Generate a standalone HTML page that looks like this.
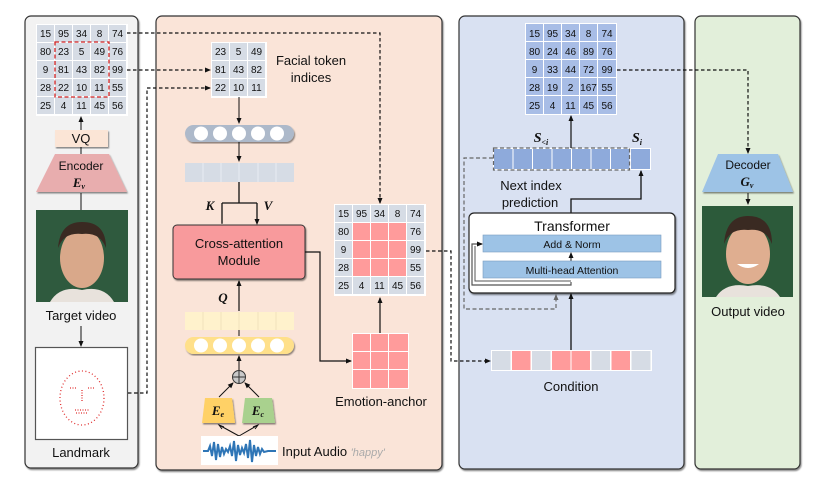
<!DOCTYPE html>
<html><head><meta charset="utf-8"><style>
html,body{margin:0;padding:0;background:#fff;}
svg{display:block;font-family:"Liberation Sans",sans-serif;}
.g{fill:#d6dce5}
.b{fill:#a8bde6}
.p{fill:#ff9b9b}
.t{font-size:10px;fill:#111;text-anchor:middle}
.L{font-size:13px;fill:#111;text-anchor:middle}
.it{font-family:"Liberation Serif",serif;font-style:italic;font-weight:bold;font-size:13px;fill:#111;text-anchor:middle}
</style></head><body>
<svg width="817" height="491" viewBox="0 0 817 491" xmlns="http://www.w3.org/2000/svg">
<defs>
<marker id="a" markerWidth="6" markerHeight="6" refX="5" refY="3" orient="auto" markerUnits="userSpaceOnUse"><path d="M0,0.5 L6,3 L0,5.5z" fill="#111"/></marker>
<marker id="ag" markerWidth="6" markerHeight="6" refX="5" refY="3" orient="auto" markerUnits="userSpaceOnUse"><path d="M0,0.5 L6,3 L0,5.5z" fill="#666"/></marker>
<filter id="sh"><feDropShadow dx="1" dy="1.5" stdDeviation="0.8" flood-opacity="0.45"/></filter>
</defs>
<!-- panels -->
<rect x="25" y="16" width="113" height="452" rx="6" fill="#f2f2f2" stroke="#333" stroke-width="1.2" filter="url(#sh)"/>
<rect x="156" y="16" width="286" height="454" rx="6" fill="#fae4d8" stroke="#333" stroke-width="1.2" filter="url(#sh)"/>
<rect x="459" y="16" width="225" height="453" rx="6" fill="#d9e1f2" stroke="#333" stroke-width="1.2" filter="url(#sh)"/>
<rect x="695" y="16" width="105" height="453" rx="6" fill="#e2efda" stroke="#333" stroke-width="1.2" filter="url(#sh)"/>

<!-- left grid -->
<g>
<rect x="36" y="24" width="92" height="92" fill="#fff"/>
<g class="g">
<rect x="37" y="25" width="17" height="17"/><rect x="55" y="25" width="17" height="17"/><rect x="73" y="25" width="17" height="17"/><rect x="91" y="25" width="17" height="17"/><rect x="109" y="25" width="17" height="17"/>
<rect x="37" y="43" width="17" height="17"/><rect x="55" y="43" width="17" height="17"/><rect x="73" y="43" width="17" height="17"/><rect x="91" y="43" width="17" height="17"/><rect x="109" y="43" width="17" height="17"/>
<rect x="37" y="61" width="17" height="17"/><rect x="55" y="61" width="17" height="17"/><rect x="73" y="61" width="17" height="17"/><rect x="91" y="61" width="17" height="17"/><rect x="109" y="61" width="17" height="17"/>
<rect x="37" y="79" width="17" height="17"/><rect x="55" y="79" width="17" height="17"/><rect x="73" y="79" width="17" height="17"/><rect x="91" y="79" width="17" height="17"/><rect x="109" y="79" width="17" height="17"/>
<rect x="37" y="97" width="17" height="17"/><rect x="55" y="97" width="17" height="17"/><rect x="73" y="97" width="17" height="17"/><rect x="91" y="97" width="17" height="17"/><rect x="109" y="97" width="17" height="17"/>
</g>
<g class="t">
<text x="45.5" y="37">15</text><text x="63.5" y="37">95</text><text x="81.5" y="37">34</text><text x="99.5" y="37">8</text><text x="117.5" y="37">74</text>
<text x="45.5" y="55">80</text><text x="63.5" y="55">23</text><text x="81.5" y="55">5</text><text x="99.5" y="55">49</text><text x="117.5" y="55">76</text>
<text x="45.5" y="73">9</text><text x="63.5" y="73">81</text><text x="81.5" y="73">43</text><text x="99.5" y="73">82</text><text x="117.5" y="73">99</text>
<text x="45.5" y="91">28</text><text x="63.5" y="91">22</text><text x="81.5" y="91">10</text><text x="99.5" y="91">11</text><text x="117.5" y="91">55</text>
<text x="45.5" y="109">25</text><text x="63.5" y="109">4</text><text x="81.5" y="109">11</text><text x="99.5" y="109">45</text><text x="117.5" y="109">56</text>
</g>
<rect x="55" y="42" width="54" height="55" fill="none" stroke="#d02020" stroke-width="1.3" stroke-dasharray="4,2.5"/>
</g>
<line x1="81" y1="130" x2="81" y2="117" stroke="#111" marker-end="url(#a)"/>
<rect x="55" y="130" width="53" height="17" fill="#fbe5d6" filter="url(#sh)"/>
<text x="81" y="143" class="L">VQ</text>
<line x1="81" y1="147" x2="81" y2="154" stroke="#111"/>
<path d="M55,154 L109,154 L127,192 L36,192z" fill="#e8adae" filter="url(#sh)"/>
<text x="81" y="170" class="L" style="font-size:12px">Encoder</text>
<text x="79" y="187" class="it">E<tspan font-size="8" dy="2">v</tspan></text>
<line x1="81" y1="193" x2="81" y2="210" stroke="#111"/>
<!-- target face -->
<rect x="36" y="210" width="92" height="92" fill="#2f5a3e"/>
<ellipse cx="82" cy="258" rx="22" ry="30" fill="#d9a88a"/>
<path d="M58,248 Q60,222 82,222 Q106,222 106,248 Q100,232 82,234 Q64,232 58,248z" fill="#3a2a22"/>
<path d="M50,302 Q60,285 82,290 Q104,285 114,302z" fill="#e8e2dc"/>
<text x="81" y="320" class="L">Target video</text>
<line x1="81" y1="326" x2="81" y2="346" stroke="#111" marker-end="url(#a)"/>
<rect x="35.5" y="347.5" width="92" height="92" fill="#fff" stroke="#555" stroke-width="1.2"/>
<ellipse cx="82" cy="398" rx="22" ry="27" fill="none" stroke="#e03030" stroke-width="1.3" stroke-dasharray="1,2.5"/>
<path d="M70,388h6M88,388h6M82,390v12M75,410h14M76,413h12" stroke="#e03030" stroke-width="1.3" stroke-dasharray="1,1.5"/>
<text x="81" y="457" class="L">Landmark</text>

<!-- dashed connectors from left -->
<path d="M127,33 H380 V203" fill="none" stroke="#111" stroke-width="1.2" stroke-dasharray="3.5,2.5" marker-end="url(#a)"/>
<path d="M127,70 H210" fill="none" stroke="#111" stroke-width="1.2" stroke-dasharray="3.5,2.5" marker-end="url(#a)"/>
<path d="M128,393 H147 V88 H210" fill="none" stroke="#111" stroke-width="1.2" stroke-dasharray="3.5,2.5" marker-end="url(#a)"/>

<!-- token grid -->
<rect x="211" y="42" width="56" height="56" fill="#fff"/>
<g class="g">
<rect x="212" y="43" width="17" height="17"/><rect x="230" y="43" width="17" height="17"/><rect x="248" y="43" width="17" height="17"/>
<rect x="212" y="61" width="17" height="17"/><rect x="230" y="61" width="17" height="17"/><rect x="248" y="61" width="17" height="17"/>
<rect x="212" y="79" width="17" height="17"/><rect x="230" y="79" width="17" height="17"/><rect x="248" y="79" width="17" height="17"/>
</g>
<g class="t">
<text x="220.5" y="55">23</text><text x="238.5" y="55">5</text><text x="256.5" y="55">49</text>
<text x="220.5" y="73">81</text><text x="238.5" y="73">43</text><text x="256.5" y="73">82</text>
<text x="220.5" y="91">22</text><text x="238.5" y="91">10</text><text x="256.5" y="91">11</text>
</g>
<text x="311" y="65" class="L">Facial token</text>
<text x="311" y="82" class="L">indices</text>
<line x1="239" y1="97" x2="239" y2="123" stroke="#111" marker-end="url(#a)"/>
<rect x="185" y="125" width="109" height="17" rx="8.5" fill="#adb9ca" filter="url(#sh)"/>
<g fill="#fff"><circle cx="201" cy="133.5" r="7"/><circle cx="220" cy="133.5" r="7"/><circle cx="239" cy="133.5" r="7"/><circle cx="258" cy="133.5" r="7"/><circle cx="277" cy="133.5" r="7"/></g>
<line x1="239" y1="142" x2="239" y2="161" stroke="#111" marker-end="url(#a)"/>
<rect x="185" y="163" width="109" height="19" fill="#d6dce5"/>
<path d="M203,163v19M221,163v19M239,163v19M258,163v19M276,163v19" stroke="#e8ecf2"/>
<path d="M239,182 V203 M222,203 H257 M222,203 V223 M257,203 V223" fill="none" stroke="#111" stroke-width="1.3"/>
<path d="M222,215 V224 M257,215 V224" stroke="#111" marker-end="url(#a)"/>
<text x="210" y="210" class="it">K</text>
<text x="268" y="210" class="it">V</text>
<rect x="173" y="225" width="132" height="54" rx="4" fill="#f89a9c" stroke="#333" stroke-width="1" filter="url(#sh)"/>
<text x="239" y="248" class="L">Cross-attention</text>
<text x="239" y="265" class="L">Module</text>
<line x1="239" y1="311" x2="239" y2="281" stroke="#111" stroke-width="1.2" marker-end="url(#a)"/>
<text x="223" y="302" class="it">Q</text>
<rect x="185" y="312" width="109" height="18" fill="#fff2cc"/>
<path d="M203,312v18M221,312v18M239,312v18M258,312v18M276,312v18" stroke="#f0e2bc"/>
<line x1="239" y1="336" x2="239" y2="330" stroke="#111"/>
<rect x="185" y="337" width="109" height="17" rx="8.5" fill="#ffe08a" filter="url(#sh)"/>
<g fill="#fff"><circle cx="201" cy="345.5" r="7"/><circle cx="220" cy="345.5" r="7"/><circle cx="239" cy="345.5" r="7"/><circle cx="258" cy="345.5" r="7"/><circle cx="277" cy="345.5" r="7"/></g>
<line x1="239" y1="370" x2="239" y2="356" stroke="#111" marker-end="url(#a)"/>
<circle cx="239" cy="377" r="6.5" fill="#c9c9c9" stroke="#333"/>
<path d="M232.5,377h13M239,370.5v13" stroke="#333"/>
<line x1="219" y1="397" x2="233" y2="383" stroke="#111" marker-end="url(#a)"/>
<line x1="259" y1="397" x2="245" y2="383" stroke="#111" marker-end="url(#a)"/>
<path d="M205,398 L232,398 L235,423 L202,423z" fill="#ffd166" filter="url(#sh)"/>
<path d="M245,398 L272,398 L275,423 L242,423z" fill="#a9d18e" filter="url(#sh)"/>
<text x="218" y="415" class="it">E<tspan font-size="8" dy="2">e</tspan></text>
<text x="258" y="415" class="it">E<tspan font-size="8" dy="2">c</tspan></text>
<path d="M239,436 L219,425 M239,436 L258,425" stroke="#111"/>
<path d="M224,427 L219,425 L222,429" fill="none" stroke="#111"/>
<path d="M253,427 L258,425 L255,429" fill="none" stroke="#111"/>
<rect x="201" y="436" width="77" height="29" fill="#fff"/>
<path d="M203,451 L208,451 L210,446 L212,456 L214,442 L216,460 L218,444 L220,457 L222,447 L224,454 L226,449 L228,452 L230,446 L232,456 L234,441 L236,461 L238,445 L240,455 L242,448 L244,453 L246,444 L248,458 L250,440 L252,462 L254,445 L256,456 L258,447 L260,454 L262,449 L264,452 L268,451 L276,451" fill="none" stroke="#2e75b6" stroke-width="2"/>
<text x="282" y="456" style="font-size:13px;fill:#111">Input Audio <tspan style="font-style:italic;fill:#aaa;font-size:11px">'happy'</tspan></text>

<!-- emotion grid -->
<rect x="334" y="204" width="92" height="92" fill="#fff"/>
<g class="g">
<rect x="335" y="205" width="17" height="17"/><rect x="353" y="205" width="17" height="17"/><rect x="371" y="205" width="17" height="17"/><rect x="389" y="205" width="17" height="17"/><rect x="407" y="205" width="17" height="17"/>
<rect x="335" y="223" width="17" height="17"/><rect x="407" y="223" width="17" height="17"/>
<rect x="335" y="241" width="17" height="17"/><rect x="407" y="241" width="17" height="17"/>
<rect x="335" y="259" width="17" height="17"/><rect x="407" y="259" width="17" height="17"/>
<rect x="335" y="277" width="17" height="17"/><rect x="353" y="277" width="17" height="17"/><rect x="371" y="277" width="17" height="17"/><rect x="389" y="277" width="17" height="17"/><rect x="407" y="277" width="17" height="17"/>
</g>
<g class="p">
<rect x="353" y="223" width="17" height="17"/><rect x="371" y="223" width="17" height="17"/><rect x="389" y="223" width="17" height="17"/>
<rect x="353" y="241" width="17" height="17"/><rect x="371" y="241" width="17" height="17"/><rect x="389" y="241" width="17" height="17"/>
<rect x="353" y="259" width="17" height="17"/><rect x="371" y="259" width="17" height="17"/><rect x="389" y="259" width="17" height="17"/>
</g>
<g class="t">
<text x="343.5" y="217">15</text><text x="361.5" y="217">95</text><text x="379.5" y="217">34</text><text x="397.5" y="217">8</text><text x="415.5" y="217">74</text>
<text x="343.5" y="235">80</text><text x="415.5" y="235">76</text>
<text x="343.5" y="253">9</text><text x="415.5" y="253">99</text>
<text x="343.5" y="271">28</text><text x="415.5" y="271">55</text>
<text x="343.5" y="289">25</text><text x="361.5" y="289">4</text><text x="379.5" y="289">11</text><text x="397.5" y="289">45</text><text x="415.5" y="289">56</text>
</g>
<path d="M305,252 H320 V361 H351" fill="none" stroke="#111" stroke-width="1.2" marker-end="url(#a)"/>
<line x1="380" y1="334" x2="380" y2="298" stroke="#111" stroke-width="1.2" marker-end="url(#a)"/>
<rect x="352" y="333" width="57" height="56" fill="#fff"/>
<g class="p">
<rect x="353" y="334" width="17" height="17"/><rect x="371" y="334" width="17" height="17"/><rect x="389" y="334" width="19" height="17"/>
<rect x="353" y="352" width="17" height="17"/><rect x="371" y="352" width="17" height="17"/><rect x="389" y="352" width="19" height="17"/>
<rect x="353" y="370" width="17" height="18"/><rect x="371" y="370" width="17" height="18"/><rect x="389" y="370" width="19" height="18"/>
</g>
<text x="381" y="406" class="L">Emotion-anchor</text>
<path d="M426,251 H451 V361 H490" fill="none" stroke="#111" stroke-width="1.2" stroke-dasharray="3.5,2.5" marker-end="url(#a)"/>

<!-- blue panel -->
<rect x="525" y="23" width="92" height="92" fill="#fff"/>
<g class="b">
<rect x="526" y="24" width="17" height="17"/><rect x="544" y="24" width="17" height="17"/><rect x="562" y="24" width="17" height="17"/><rect x="580" y="24" width="17" height="17"/><rect x="598" y="24" width="18" height="17"/>
<rect x="526" y="42" width="17" height="17"/><rect x="544" y="42" width="17" height="17"/><rect x="562" y="42" width="17" height="17"/><rect x="580" y="42" width="17" height="17"/><rect x="598" y="42" width="18" height="17"/>
<rect x="526" y="60" width="17" height="17"/><rect x="544" y="60" width="17" height="17"/><rect x="562" y="60" width="17" height="17"/><rect x="580" y="60" width="17" height="17"/><rect x="598" y="60" width="18" height="17"/>
<rect x="526" y="78" width="17" height="17"/><rect x="544" y="78" width="17" height="17"/><rect x="562" y="78" width="17" height="17"/><rect x="580" y="78" width="17" height="17"/><rect x="598" y="78" width="18" height="17"/>
<rect x="526" y="96" width="17" height="18"/><rect x="544" y="96" width="17" height="18"/><rect x="562" y="96" width="17" height="18"/><rect x="580" y="96" width="17" height="18"/><rect x="598" y="96" width="18" height="18"/>
</g>
<g class="t">
<text x="534.5" y="37">15</text><text x="552.5" y="37">95</text><text x="570.5" y="37">34</text><text x="588.5" y="37">8</text><text x="607" y="37">74</text>
<text x="534.5" y="55">80</text><text x="552.5" y="55">24</text><text x="570.5" y="55">46</text><text x="588.5" y="55">89</text><text x="607" y="55">76</text>
<text x="534.5" y="73">9</text><text x="552.5" y="73">33</text><text x="570.5" y="73">44</text><text x="588.5" y="73">72</text><text x="607" y="73">99</text>
<text x="534.5" y="91">28</text><text x="552.5" y="91">19</text><text x="570.5" y="91">2</text><text x="588.5" y="91">167</text><text x="607" y="91">55</text>
<text x="534.5" y="109">25</text><text x="552.5" y="109">4</text><text x="570.5" y="109">11</text><text x="588.5" y="109">45</text><text x="607" y="109">56</text>
</g>
<line x1="571" y1="148" x2="571" y2="116" stroke="#111" stroke-width="1.2" marker-end="url(#a)"/>
<text x="541" y="142" class="it" style="font-size:14px">S<tspan font-size="8" dy="3">&lt;i</tspan></text>
<text x="637" y="142" class="it" style="font-size:14px">S<tspan font-size="8" dy="3">i</tspan></text>
<rect x="493" y="148" width="158" height="22" fill="#fff"/>
<g fill="#8eaadb">
<rect x="494" y="149" width="18.5" height="20"/><rect x="513.5" y="149" width="18.5" height="20"/><rect x="533" y="149" width="18.5" height="20"/><rect x="552.5" y="149" width="18.5" height="20"/><rect x="572" y="149" width="18.5" height="20"/><rect x="591.5" y="149" width="18.5" height="20"/><rect x="611" y="149" width="18.5" height="20"/><rect x="631" y="149" width="19" height="20"/>
</g>
<rect x="493.5" y="148" width="136" height="22" fill="none" stroke="#666" stroke-width="1.2" stroke-dasharray="4,2.5"/>
<text x="531" y="190" class="L">Next index</text>
<text x="530" y="207" class="L">prediction</text>
<path d="M571,213 V199 H641 V171" fill="none" stroke="#111" stroke-width="1.3" marker-end="url(#a)"/>
<path d="M493,158 H464 V309 H556 V295" fill="none" stroke="#666" stroke-width="1.2" stroke-dasharray="4,2.5" marker-end="url(#ag)"/>
<rect x="469" y="213" width="206" height="80" rx="5" fill="#fff" stroke="#222" stroke-width="1.2" filter="url(#sh)"/>
<text x="572" y="231" class="L" style="font-size:14px">Transformer</text>
<rect x="483" y="235" width="178" height="17" fill="#9dc3e6" stroke="#7a9cc0" stroke-width="0.6"/>
<text x="572" y="248" class="t" style="font-size:10.5px">Add &amp; Norm</text>
<line x1="571" y1="261" x2="571" y2="253" stroke="#111" marker-end="url(#a)"/>
<rect x="483" y="261" width="178" height="17" fill="#9dc3e6" stroke="#7a9cc0" stroke-width="0.6"/>
<text x="572" y="274" class="t" style="font-size:10.5px">Multi-head Attention</text>
<path d="M571,282 V285 H472 V244 H482" fill="none" stroke="#555" stroke-width="1.2" marker-end="url(#a)"/>
<path d="M571,281 H475 V246" fill="none" stroke="#555" stroke-width="1"/>
<line x1="571" y1="351" x2="571" y2="294" stroke="#111" stroke-width="1.3" marker-end="url(#a)"/>
<rect x="491" y="350" width="161" height="21" fill="#fff"/>
<rect x="492" y="351" width="18.5" height="19" fill="#d6dce5"/><rect x="512" y="351" width="18.5" height="19" fill="#ff9b9b"/><rect x="532" y="351" width="18.5" height="19" fill="#d6dce5"/><rect x="552" y="351" width="18.5" height="19" fill="#ff9b9b"/><rect x="571.5" y="351" width="18.5" height="19" fill="#ff9b9b"/><rect x="591.5" y="351" width="18.5" height="19" fill="#d6dce5"/><rect x="611.5" y="351" width="18.5" height="19" fill="#ff9b9b"/><rect x="631.5" y="351" width="19" height="19" fill="#d6dce5"/>
<text x="571" y="391" class="L">Condition</text>

<!-- green panel -->
<path d="M617,70 H748 V153" fill="none" stroke="#111" stroke-width="1.2" stroke-dasharray="3.5,2.5" marker-end="url(#a)"/>
<path d="M718,154 L778,154 L793,192 L702,192z" fill="#9dc3e6" filter="url(#sh)"/>
<text x="748" y="169" class="L" style="font-size:12px">Decoder</text>
<text x="747" y="186" class="it">G<tspan font-size="8" dy="2">v</tspan></text>
<line x1="748" y1="193" x2="748" y2="204" stroke="#111" marker-end="url(#a)"/>
<rect x="702" y="206" width="91" height="91" fill="#2c5a3a"/>
<ellipse cx="748" cy="254" rx="22" ry="30" fill="#dfae90"/>
<path d="M724,244 Q726,216 748,216 Q772,216 772,244 Q766,228 748,230 Q730,228 724,244z" fill="#3a2a22"/>
<path d="M737,264 Q748,272 759,264z" fill="#fff"/>
<path d="M716,297 Q726,282 748,286 Q770,282 780,297z" fill="#e8e2dc"/>
<text x="748" y="316" class="L">Output video</text>
</svg>
</body></html>
